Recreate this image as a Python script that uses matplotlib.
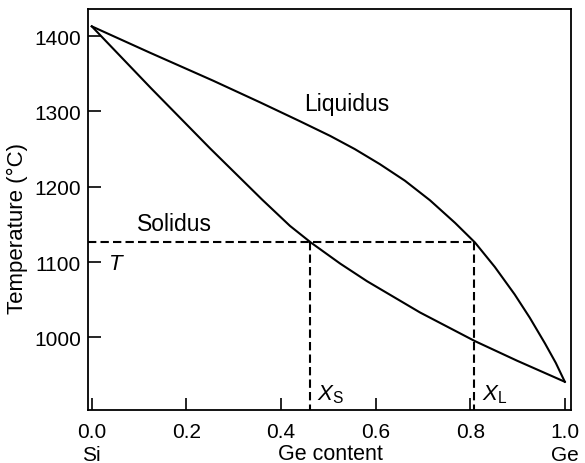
import matplotlib
matplotlib.use("Agg")
import matplotlib.pyplot as plt

# liquidus / solidus (Ge fraction, deg C)
liquidus_x = [0.0, 0.123, 0.256, 0.356, 0.440, 0.504, 0.556, 0.609, 0.662, 0.715,
              0.768, 0.810, 0.852, 0.894, 0.926, 0.958, 0.981, 1.0]
liquidus_T = [1413, 1378, 1341, 1312, 1287, 1267.5, 1250, 1230, 1208, 1182,
              1152, 1126, 1093.5, 1057, 1026, 992, 966, 941]
solidus_x = [0.0, 0.125, 0.250, 0.360, 0.419, 0.463, 0.525, 0.582, 0.694, 0.810, 0.899, 1.0]
solidus_T = [1413, 1331, 1251, 1183, 1148, 1126, 1098, 1074.5, 1033, 995, 969, 941]

T_line = 1126
x_s = 0.462
x_l = 0.808

xticks = [0.0, 0.2, 0.4, 0.6, 0.8, 1.0]
xticklabels = ["0.0\nSi", "0.2", "0.4", "0.6", "0.8", "1.0\nGe"]
yticks = [1000, 1100, 1200, 1300, 1400]

plt.rcParams['font.family'] = ['Liberation Sans', 'DejaVu Sans']
plt.rcParams['font.size'] = 15
plt.rcParams['mathtext.fontset'] = 'custom'
plt.rcParams['mathtext.rm'] = 'Liberation Sans'
plt.rcParams['mathtext.it'] = 'Liberation Sans:italic'

fig = plt.figure(figsize=(5.85, 4.64), dpi=100)
ax = fig.add_axes([0.1504, 0.1142, 0.976 - 0.1504, 0.9784 - 0.1142])

xmin, xmax = -0.008, 1.013
ymin, ymax = 903.5, 1436

ax.plot(liquidus_x, liquidus_T, color='black', lw=1.5, solid_joinstyle='round')
ax.plot(solidus_x, solidus_T, color='black', lw=1.5, solid_joinstyle='round')

# tie line at temperature T
ax.plot([xmin, x_l], [T_line, T_line], color='black', lw=1.5, dashes=(4, 2))
ax.plot([x_s, x_s], [T_line, ymin], color='black', lw=1.5, dashes=(4, 2))
ax.plot([x_l, x_l], [T_line, ymin], color='black', lw=1.5, dashes=(4, 2))

ax.text(0.539, 1310, "Liquidus", ha='center', va='center', fontsize=16.5)
ax.text(0.175, 1151, "Solidus", ha='center', va='center', fontsize=16.5)
ax.text(0.052, 1098, "$T$", ha='center', va='center', fontsize=16)
ax.text(0.476, 925, r"$X_\mathrm{S}$", ha='left', va='center', fontsize=16)
ax.text(0.824, 925, r"$X_\mathrm{L}$", ha='left', va='center', fontsize=16)

ax.set_xlim(xmin, xmax)
ax.set_ylim(ymin, ymax)
ax.set_xticks(xticks)
ax.set_xticklabels(xticklabels, linespacing=1.3)
ax.set_yticks(yticks)
ax.tick_params(direction='in', length=9, width=1.2, pad=8.5)
ax.tick_params(axis='y', pad=5)
for s in ax.spines.values():
    s.set_linewidth(1.3)

ax.set_xlabel("Ge content", fontsize=15.5)
ax.xaxis.set_label_coords(0.502, -0.109)
ax.xaxis.label.set_va('center')
ax.set_ylabel("Temperature (°C)", fontsize=16)
ax.yaxis.set_label_coords(-0.124, 0.456)

fig.savefig("out.png", dpi=100)
